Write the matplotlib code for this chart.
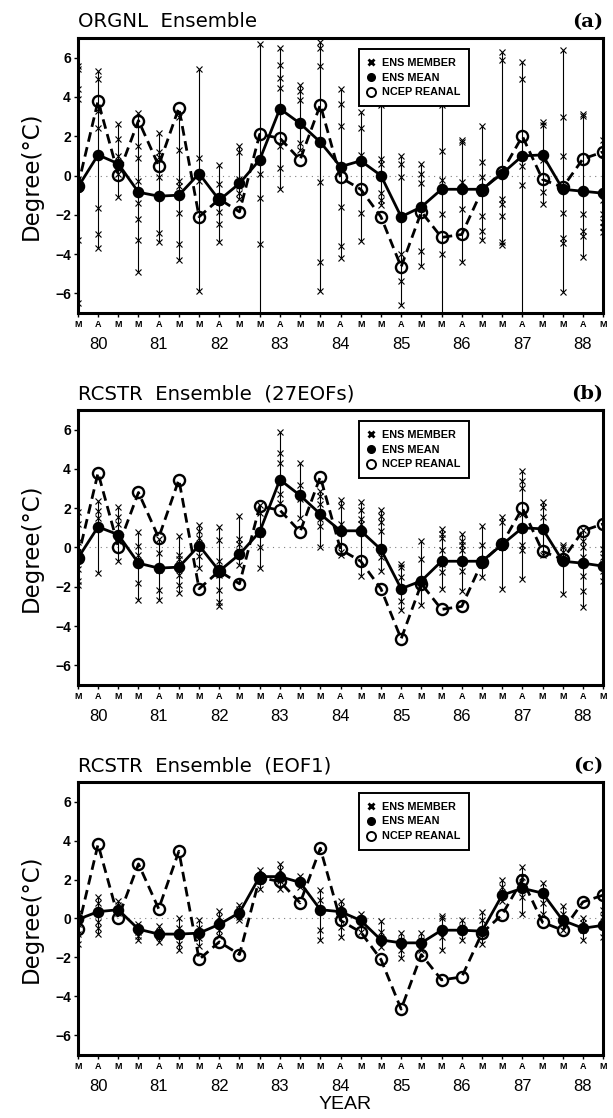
import numpy as np
import matplotlib
matplotlib.use("Agg")
import matplotlib.pyplot as plt
from matplotlib.lines import Line2D
from matplotlib.transforms import blended_transform_factory

plt.rcParams['font.family'] = ['Liberation Sans', 'DejaVu Sans']

# x axis: three seasons (M A M) per year, 1980-1988
month_labels = ["M", "A", "M"] * 9
year_labels = ["80", "81", "82", "83", "84", "85", "86", "87", "88"]

# NCEP reanalysis (same in every panel)
ncep = [-0.55, 3.8, 0.05, 2.8, 0.5, 3.45, -2.1, -1.2, -1.85, 2.1, 1.9, 0.8, 3.6, -0.1,
        -0.7, -2.1, -4.65, -1.85, -3.15, -3.0, -0.75, 0.2, 2.0, -0.2, -0.6, 0.85, 1.2]

# ensemble means
mean_a = [-0.6, 1.05, 0.6, -0.85, -1.05, -1.0, 0.1, -1.25, -0.4, 0.8, 3.4, 2.65, 1.7, 0.45,
          0.75, 0.0, -2.1, -1.6, -0.7, -0.7, -0.7, 0.1, 1.0, 1.05, -0.7, -0.8, -0.9]
mean_b = [-0.55, 1.05, 0.65, -0.8, -1.05, -1.0, 0.1, -1.2, -0.35, 0.8, 3.45, 2.65, 1.7, 0.85,
          0.85, -0.1, -2.1, -1.7, -0.7, -0.7, -0.7, 0.15, 1.0, 0.95, -0.7, -0.8, -0.95]
mean_c = [-0.05, 0.35, 0.45, -0.55, -0.8, -0.8, -0.75, -0.3, 0.3, 2.15, 2.15, 1.85, 0.45, 0.35,
          -0.1, -1.1, -1.25, -1.25, -0.6, -0.6, -0.65, 1.2, 1.55, 1.3, -0.1, -0.5, -0.35]

# ensemble members for each season
members_a = [
    [5.6, 5.4, 4.4, 3.9, -0.2, -3.3, -6.5],
    [5.3, 4.9, 3.3, 2.4, -1.65, -3.0, -3.7],
    [2.6, 1.85, 1.0, 0.1, -1.1],
    [3.2, 1.5, 0.9, -0.3, -1.4, -2.2, -3.3, -4.9],
    [2.15, 1.2, 0.95, -0.1, -2.95, -3.4],
    [3.0, 1.3, -0.3, -0.55, -1.9, -3.5, -4.3],
    [5.4, 0.9, 0.1, -0.3, -5.9],
    [0.55, -0.45, -1.85, -2.45, -3.4],
    [1.5, 1.2, -0.2, -0.55, -0.9, -1.2],
    [6.7, 0.1, -1.15, -3.5, -7.5],
    [6.5, 5.65, 4.95, 4.45, 1.5, 0.4, -0.7],
    [4.6, 4.3, 3.85, 1.65, 1.3],
    [6.8, 6.5, 5.6, -0.35, -4.4, -5.9],
    [4.4, 3.65, 2.5, -1.6, -3.6, -4.2],
    [3.25, 2.4, 1.05, -1.9, -3.35],
    [3.6, 0.85, 0.6, -0.9, -1.25, -1.5],
    [1.0, 0.6, -0.1, -4.0, -5.35, -6.6],
    [0.6, 0.1, -0.4, -3.85, -4.6],
    [3.6, 1.25, -0.25, -1.95, -4.0, -7.5],
    [1.8, 1.7, -0.35, -1.7, -4.4],
    [2.5, 0.7, -0.1, -2.05, -2.8, -3.3],
    [6.3, 5.9, -1.2, -1.45, -2.05, -3.4, -3.55],
    [5.8, 4.9, 0.5, -0.5, -7.5],
    [2.7, 2.55, 0.8, -0.85, -1.45],
    [6.4, 3.0, 1.0, -1.9, -3.2, -3.45, -5.95],
    [3.15, 3.05, -1.95, -2.8, -3.1, -4.15],
    [1.8, 1.1, -1.25, -1.95, -2.35, -2.6, -2.85],
]
members_b = [
    [1.8, 1.2, 0.3, -0.5, -1.1, -1.7, -1.9],
    [2.35, 1.85, 1.5, -1.3],
    [2.05, 1.55, 1.2, 0.35, -0.7],
    [0.8, 0.1, -0.4, -1.8, -2.65],
    [0.45, -0.3, -1.15, -2.15, -2.65],
    [0.6, -0.4, -0.6, -1.4, -1.9, -2.3],
    [1.15, 0.85, 0.5, -0.45, -1.05],
    [1.05, 0.4, -0.7, -1.4, -2.15, -2.75, -3.0],
    [1.6, 0.45, 0.2, -0.2, -0.9],
    [2.15, 1.75, 0.7, 0.05, -1.05],
    [5.9, 4.8, 4.3, 2.7, 2.25],
    [4.3, 3.2, 2.45, 1.5],
    [2.9, 2.6, 2.2, 1.45, 1.1, 0.0],
    [2.4, 2.1, 1.2, -0.25, -0.4],
    [2.3, 1.9, 1.45, 1.2, -1.45],
    [1.9, 1.6, 1.3, 0.85, -0.5, -1.2],
    [-0.85, -1.0, -1.5, -2.7, -3.2],
    [0.35, -0.6, -1.85, -2.95],
    [0.95, 0.7, 0.5, -0.15, -0.85, -1.25, -2.1],
    [0.7, 0.35, 0.15, -0.15, -1.2, -2.2],
    [1.1, 0.15, -0.85, -1.5],
    [1.55, 1.3, 0.0, -2.1],
    [3.9, 3.4, 3.05, 1.7, 0.15, -0.15, -1.6],
    [2.3, 2.05, 1.55, -0.4],
    [0.15, 0.0, -0.25, -0.5, -2.35],
    [0.9, 0.35, 0.0, -0.5, -1.45, -2.2, -3.05],
    [-0.1, -0.5, -0.85, -1.2, -1.7],
]
members_c = [
    [0.3, 0.0, -0.3, -0.8, -1.3],
    [1.1, 0.8, 0.3, -0.2, -0.5, -0.8],
    [0.9, 0.7, 0.5, 0.3],
    [-0.3, -0.5, -0.7, -0.9, -1.1],
    [-0.4, -0.7, -0.9, -1.2],
    [0.0, -0.5, -0.9, -1.3, -1.6],
    [-0.1, -0.5, -1.0, -1.4],
    [0.4, 0.1, -0.3, -0.6, -0.9],
    [0.7, 0.5, 0.3, 0.1, -0.1],
    [2.5, 2.2, 1.9, 1.5],
    [2.8, 2.5, 2.2, 1.9, 1.5],
    [2.2, 1.9, 1.6],
    [1.45, 0.95, -0.6, -1.1],
    [0.9, 0.6, -0.45, -0.95],
    [0.25, -0.1, -0.7],
    [-0.15, -0.7, -1.45],
    [-0.75, -1.1, -1.6, -2.05],
    [-0.75, -1.1, -1.6],
    [0.15, 0.0, -0.95, -1.6],
    [-0.1, -0.45, -1.1],
    [0.35, -0.1, -1.3],
    [2.0, 1.6, 1.25, 0.9],
    [2.65, 2.15, 1.5, 1.1, 0.25],
    [1.8, 1.3, 0.8, 0.25],
    [0.65, 0.25, -0.25, -0.6],
    [0.0, -0.25, -0.6, -1.1],
    [0.45, 0.1, -0.4, -0.95],
]

titles = ["ORGNL  Ensemble", "RCSTR  Ensemble  (27EOFs)", "RCSTR  Ensemble  (EOF1)"]
tags = ["(a)", "(b)", "(c)"]


def draw_panel(ax, mean, members, title, tag, last):
    x = np.arange(len(mean))

    # members: vertical range line + x marks
    for i, vals in enumerate(members):
        ax.vlines(x[i], min(vals), max(vals), color='black', lw=0.8, zorder=2)
        ax.plot([x[i]] * len(vals), vals, 'x', color='black', ms=4, mew=0.8, zorder=2)

    # zero line
    ax.axhline(0, color='gray', lw=0.8, ls=(0, (1, 4)), zorder=1)

    # reanalysis and ensemble mean
    ax.plot(x, ncep, color='black', lw=2, ls=(0, (3.5, 2)), marker='o', ms=8,
            mfc='none', mec='black', mew=1.7, zorder=3)
    ax.plot(x, mean, color='black', lw=2, marker='o', ms=7.3, mfc='black', mec='black', zorder=4)

    ax.set_xlim(0, len(mean) - 1)
    ax.set_ylim(-7, 7)
    ax.set_xticks(x)
    ax.set_xticklabels(month_labels, fontsize=6.5, fontweight='bold')
    ax.set_yticks(np.arange(-6, 7, 2))
    ax.set_yticklabels([str(v).replace('-', '\u2212') for v in range(-6, 7, 2)],
                       fontsize=10, fontweight='bold')
    ax.tick_params(axis='both', direction='out', length=3, width=1, pad=2)
    for sp in ax.spines.values():
        sp.set_linewidth(2.2)

    # year labels under the "A" ticks
    trans = blended_transform_factory(ax.transData, ax.transAxes)
    for k, yr in enumerate(year_labels):
        ax.text(3 * k + 1, -0.115, yr, transform=trans, ha='center', va='center', fontsize=12)

    ax.set_ylabel("Degree(\u00b0C)", fontsize=16.5, labelpad=9, family='DejaVu Sans')
    ax.text(0, 1.025, title, transform=ax.transAxes, ha='left', va='bottom', fontsize=14.2,
            family='DejaVu Sans')
    ax.text(1.0, 1.025, tag, transform=ax.transAxes, ha='right', va='bottom', fontsize=14,
            fontweight='bold', family='DejaVu Serif')

    # legend
    handles = [
        Line2D([], [], ls='none', marker='x', color='black', ms=5, mew=2),
        Line2D([], [], ls='none', marker='o', color='black', ms=5.5),
        Line2D([], [], ls='none', marker='o', mfc='none', mec='black', ms=6.5, mew=1.4),
    ]
    leg = ax.legend(handles, ["ENS MEMBER", "ENS MEAN", "NCEP REANAL"], loc='upper left',
                    bbox_to_anchor=(0.535, 0.96), borderaxespad=0, frameon=True, fancybox=False,
                    edgecolor='black', framealpha=1, handlelength=0.7, handletextpad=0.6,
                    borderpad=0.8, labelspacing=0.45, prop={'size': 7.8, 'weight': 'bold'})
    leg.get_frame().set_linewidth(1.4)
    leg.set_zorder(10)

    if last:
        ax.text(0.509, -0.18, "YEAR", transform=ax.transAxes, ha='center', va='center',
                fontsize=14)


fig = plt.figure(figsize=(6.13, 11.18), dpi=100)
boxes = [(0.127, 0.720, 0.857, 0.246),
         (0.127, 0.3873, 0.857, 0.246),
         (0.127, 0.0564, 0.857, 0.2441)]
means = [mean_a, mean_b, mean_c]
members = [members_a, members_b, members_c]

for p in range(3):
    ax = fig.add_axes(boxes[p])
    draw_panel(ax, means[p], members[p], titles[p], tags[p], p == 2)

fig.savefig("out.png", dpi=100)
